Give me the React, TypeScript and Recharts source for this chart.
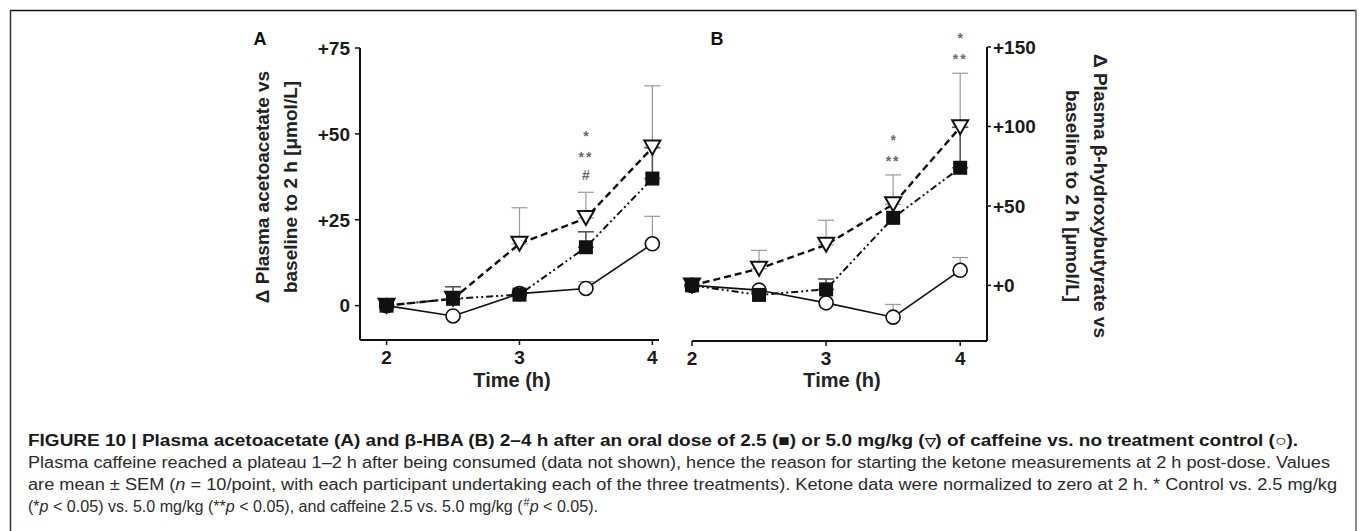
import React from "react";
import { LineChart, Line, XAxis, YAxis, ErrorBar } from "recharts";

// sampling times (h after dose)
const hours = [2, 2.5, 3, 3.5, 4];
const hourTicks = [2, 3, 4];

// panel A: plasma acetoacetate, change vs 2 h (µmol/L)
const acacControl = [0, -3, 3.5, 5, 18];
const acacControlSem = [0, 0, 0, 2, 8];
const acacLow = [0, 2, 3.2, 17, 37];
const acacLowSem = [0, 3.5, 0, 4.5, 9];
const acacHigh = [0, 2, 18, 25.5, 46];
const acacHighSem = [0, 0, 10.5, 7.5, 18];
const acacMarks = [[], [], [], ["#", "**", "*"], []];
const acacTicks = [0, 25, 50, 75];

// panel B: plasma beta-hydroxybutyrate, change vs 2 h (µmol/L)
const bhbControl = [0, -3, -11, -20, 9.5];
const bhbControlSem = [0, 0, 0, 8, 8];
const bhbLow = [0, -6, -2.5, 42.5, 74];
const bhbLowSem = [0, 0, 6.5, 0, 25.5];
const bhbHigh = [0, 10.5, 25.5, 51, 99.5];
const bhbHighSem = [0, 11.5, 15.5, 18.5, 34];
const bhbMarks = [[], [], [], ["**", "*"], ["**", "*"]];
const bhbTicks = [0, 50, 100, 150];

const FONT = "'Liberation Sans', Arial, Helvetica, sans-serif";
const CAPTION_FONT = "'Liberation Sans Narrow', 'Liberation Sans', Arial, sans-serif";

const up = (v: number) => (v ? [0, v] : null);

function buildRows(
  control: number[],
  controlSem: number[],
  low: number[],
  lowSem: number[],
  high: number[],
  highSem: number[],
  marks: string[][]
) {
  return hours.map((t, i) => ({
    t,
    control: control[i],
    controlErr: up(controlSem[i]),
    low: low[i],
    lowErr: up(lowSem[i]),
    high: high[i],
    highErr: up(highSem[i]),
    annY: marks[i].length ? high[i] + highSem[i] : null,
    marks: marks[i],
  }));
}

const rowsA = buildRows(acacControl, acacControlSem, acacLow, acacLowSem, acacHigh, acacHighSem, acacMarks);
const rowsB = buildRows(bhbControl, bhbControlSem, bhbLow, bhbLowSem, bhbHigh, bhbHighSem, bhbMarks);

const CircleDot = (p: any) =>
  p.cx == null || p.cy == null ? (
    <g key={`c-${p.index}`} />
  ) : (
    <circle key={`c-${p.index}`} cx={p.cx} cy={p.cy} r={7} fill="#fff" stroke="#111" strokeWidth={1.6} />
  );

const SquareDot = (p: any) =>
  p.cx == null || p.cy == null ? (
    <g key={`s-${p.index}`} />
  ) : (
    <rect key={`s-${p.index}`} x={p.cx - 7} y={p.cy - 7} width={14} height={14} fill="#111" />
  );

const TriangleDot = (p: any) =>
  p.cx == null || p.cy == null ? (
    <g key={`t-${p.index}`} />
  ) : (
    <polygon
      key={`t-${p.index}`}
      points={`${p.cx - 8},${p.cy - 7} ${p.cx + 8},${p.cy - 7} ${p.cx},${p.cy + 7}`}
      fill="#fff"
      stroke="#111"
      strokeWidth={2}
      strokeLinejoin="miter"
    />
  );

// significance symbols stacked above the top of the 5.0 mg/kg error bar
const MarkLabel = (p: any) => {
  const { cx, cy, payload, index } = p;
  if (cx == null || cy == null || !payload || !payload.marks || !payload.marks.length) {
    return <g key={`m-${index}`} />;
  }
  const fs = 14;
  return (
    <g key={`m-${index}`}>
      {payload.marks.map((s: string, j: number) => {
        const c = cy - 17 - 21 * j;
        const base = c + (s.includes("*") ? 0.58 : 0.36) * fs;
        return (
          <text
            key={j}
            x={cx}
            y={base}
            textAnchor="middle"
            fontSize={fs}
            fontWeight={700}
            fontFamily={FONT}
            fill="#6a6a6a"
            letterSpacing={s === "**" ? 2 : 0}
          >
            {s}
          </text>
        );
      })}
    </g>
  );
};

const tickStyle = { fill: "#1b1b1b", fontSize: 19, fontWeight: 700, fontFamily: FONT };
const axisLineStyle = { stroke: "#111", strokeWidth: 2 };
const tickLineStyle = { stroke: "#111", strokeWidth: 1.5 };

function Series() {
  return [
    <Line
      key="control"
      dataKey="control"
      stroke="#111"
      strokeWidth={1.6}
      dot={CircleDot}
      activeDot={false}
      isAnimationActive={false}
    >
      <ErrorBar dataKey="controlErr" width={8} stroke="#9a9a9a" strokeWidth={1.2} direction="y" />
    </Line>,
    <Line
      key="high"
      dataKey="high"
      stroke="#111"
      strokeWidth={2.4}
      strokeDasharray="7 4"
      dot={TriangleDot}
      activeDot={false}
      isAnimationActive={false}
    >
      <ErrorBar dataKey="highErr" width={8} stroke="#9a9a9a" strokeWidth={1.2} direction="y" />
    </Line>,
    <Line
      key="low"
      dataKey="low"
      stroke="#111"
      strokeWidth={2}
      strokeDasharray="7 3 2 3 2 3"
      dot={SquareDot}
      activeDot={false}
      isAnimationActive={false}
    >
      <ErrorBar dataKey="lowErr" width={8} stroke="#555" strokeWidth={1.6} direction="y" />
    </Line>,
    <Line
      key="marks"
      dataKey="annY"
      stroke="none"
      dot={MarkLabel}
      activeDot={false}
      legendType="none"
      isAnimationActive={false}
    />,
  ];
}

function PanelA() {
  return (
    <LineChart width={500} height={400} data={rowsA} margin={{ top: 48, right: 41, bottom: 0, left: 0 }}>
      <XAxis
        type="number"
        dataKey="t"
        domain={[1.8, 4.05]}
        ticks={hourTicks}
        height={60}
        tickSize={5}
        tickMargin={6}
        tick={tickStyle}
        axisLine={axisLineStyle}
        tickLine={tickLineStyle}
      />
      <YAxis
        type="number"
        domain={[-10, 75]}
        ticks={acacTicks}
        width={160}
        tickSize={5}
        tickMargin={5}
        tick={tickStyle}
        axisLine={axisLineStyle}
        tickLine={tickLineStyle}
        tickFormatter={(v: number) => (v === 0 ? "0" : `+${v}`)}
      />
      {Series()}
    </LineChart>
  );
}

function PanelB() {
  return (
    <LineChart width={600} height={400} data={rowsB} margin={{ top: 47, right: 103, bottom: 0, left: 92 }}>
      <XAxis
        type="number"
        dataKey="t"
        domain={[2, 4.2]}
        ticks={hourTicks}
        height={59}
        tickSize={5}
        tickMargin={6}
        tick={tickStyle}
        axisLine={axisLineStyle}
        tickLine={tickLineStyle}
      />
      <YAxis
        type="number"
        orientation="right"
        domain={[-35, 150]}
        ticks={bhbTicks}
        width={110}
        tickSize={4}
        tickMargin={2}
        tick={tickStyle}
        axisLine={axisLineStyle}
        tickLine={tickLineStyle}
        tickFormatter={(v: number) => `+${v}`}
      />
      {Series()}
    </LineChart>
  );
}

function Overlay() {
  const title = { fontFamily: FONT, fontWeight: 700, fontSize: 19, fill: "#222" };
  return (
    <svg width={1359} height={531} style={{ position: "absolute", left: 0, top: 0 }}>
      {/* frame */}
      <line x1={10} y1={10.5} x2={1357} y2={10.5} stroke="#111" strokeWidth={1.5} />
      <line x1={10.5} y1={10} x2={10.5} y2={531} stroke="#333" strokeWidth={1.5} />
      <line x1={1356} y1={10} x2={1356} y2={531} stroke="#888" strokeWidth={2} />

      {/* panel letters */}
      <text x={260} y={45} textAnchor="middle" {...title} fontSize={18} fill="#111">A</text>
      <text x={717} y={45} textAnchor="middle" {...title} fontSize={18} fill="#111">B</text>

      {/* axis titles, panel A */}
      <text transform="translate(262,187) rotate(-90)" textAnchor="middle" dominantBaseline="central" {...title}>
        Δ Plasma acetoacetate vs
      </text>
      <text transform="translate(290,187) rotate(-90)" textAnchor="middle" dominantBaseline="central" {...title}>
        baseline to 2 h [μmol/L]
      </text>
      <text x={512} y={387} textAnchor="middle" {...title} fontSize={20}>Time (h)</text>

      {/* axis titles, panel B */}
      <text transform="translate(1100,196) rotate(90)" textAnchor="middle" dominantBaseline="central" {...title}>
        Δ Plasma β-hydroxybutyrate vs
      </text>
      <text transform="translate(1072,196) rotate(90)" textAnchor="middle" dominantBaseline="central" {...title}>
        baseline to 2 h [μmol/L]
      </text>
      <text x={842} y={387} textAnchor="middle" {...title} fontSize={20}>Time (h)</text>

      {/* caption */}
      <g fontFamily={CAPTION_FONT} fontSize={16} fill="#2b2b2b">
        <text x={28} y={446} fontWeight={700} fill="#1a1a1a" textLength={1270} lengthAdjust="spacingAndGlyphs">
          FIGURE 10 | Plasma acetoacetate (A) and β-HBA (B) 2–4 h after an oral dose of 2.5 (■) or 5.0 mg/kg (
          <tspan fontSize={12}>▽</tspan>) of caffeine vs. no treatment control (○).
        </text>
        <text x={28} y={468} textLength={1302} lengthAdjust="spacingAndGlyphs">
          Plasma caffeine reached a plateau 1–2 h after being consumed (data not shown), hence the reason for starting the ketone measurements at 2 h post-dose. Values
        </text>
        <text x={28} y={490} textLength={1309} lengthAdjust="spacingAndGlyphs">
          are mean ± SEM (<tspan fontStyle="italic">n</tspan> = 10/point, with each participant undertaking each of the three treatments). Ketone data were normalized to zero at 2 h. * Control vs. 2.5 mg/kg
        </text>
        <text x={28} y={512} textLength={570} lengthAdjust="spacingAndGlyphs">
          (*<tspan fontStyle="italic">p</tspan> &lt; 0.05) vs. 5.0 mg/kg (**<tspan fontStyle="italic">p</tspan> &lt; 0.05), and caffeine 2.5 vs. 5.0 mg/kg (
          <tspan fontSize={11} dy={-6} dx={1}>#</tspan>
          <tspan fontStyle="italic" dy={6}>p</tspan> &lt; 0.05).
        </text>
      </g>
    </svg>
  );
}

export default function App() {
  return (
    <div style={{ position: "absolute", left: 0, top: 0, width: 1359, height: 531, background: "#fff" }}>
      <Overlay />
      <div style={{ position: "absolute", left: 200, top: 0 }}>
        <PanelA />
      </div>
      <div style={{ position: "absolute", left: 600, top: 0 }}>
        <PanelB />
      </div>
    </div>
  );
}
